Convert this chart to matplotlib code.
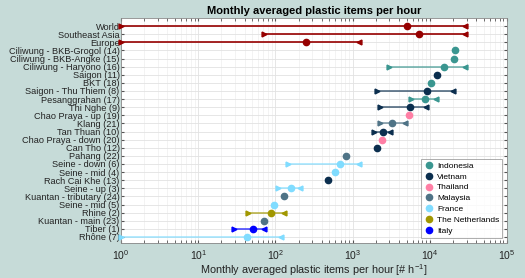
import numpy as np
import matplotlib
matplotlib.use('Agg')
import matplotlib.pyplot as plt
from matplotlib.lines import Line2D

plt.rcParams['font.family'] = ['Liberation Sans', 'DejaVu Sans']
plt.rcParams['mathtext.fontset'] = 'custom'
plt.rcParams['mathtext.rm'] = 'Liberation Sans'
plt.rcParams['mathtext.it'] = 'Liberation Sans'

labels = ['World', 'Southeast Asia', 'Europe',
          'Ciliwung - BKB-Grogol (14)', 'Ciliwung - BKB-Angke (15)', 'Ciliwung - Haryono (16)',
          'Saigon (11)', 'BKT (18)', 'Saigon - Thu Thiem (8)', 'Pesanggrahan (17)',
          'Thi Nghe (9)', 'Chao Praya - up (19)', 'Klang (21)', 'Tan Thuan (10)',
          'Chao Praya - down (20)', 'Can Tho (12)', 'Pahang (22)', 'Seine - down (6)',
          'Seine - mid (4)', 'Rach Cai Khe (13)', 'Seine - up (3)', 'Kuantan - tributary (24)',
          'Seine - mid (5)', 'Rhine (2)', 'Kuantan - main (23)', 'Tiber (1)', 'Rh\u00f4ne (7)']
groups = ['Region', 'Region', 'Region',
          'Indonesia', 'Indonesia', 'Indonesia',
          'Vietnam', 'Indonesia', 'Vietnam', 'Indonesia',
          'Vietnam', 'Thailand', 'Malaysia', 'Vietnam',
          'Thailand', 'Vietnam', 'Malaysia', 'France',
          'France', 'Vietnam', 'France', 'Malaysia',
          'France', 'The Netherlands', 'Malaysia', 'Italy', 'France']
values = [5000, 7200, 247,
          21500, 20500, 15400,
          12300, 10500, 9300, 8700,
          5600, 5300, 3250, 2450,
          2430, 2040, 810, 680,
          600, 485, 159, 131,
          95, 87, 71, 52, 43]
# lower / upper bounds (nan = no range)
lows = [1, 71, 1,
        np.nan, np.nan, 3000,
        np.nan, np.nan, 2100, 5650,
        2250, np.nan, 2250, 1870,
        np.nan, np.nan, np.nan, 147,
        np.nan, np.nan, 109, np.nan,
        np.nan, 44.7, np.nan, 29.4, 1]
highs = [29000, 29000, 1200,
         np.nan, np.nan, 29000,
         np.nan, np.nan, 19800, 12000,
         8900, np.nan, 4800, 3030,
         np.nan, np.nan, np.nan, 1220,
         np.nan, np.nan, 210, np.nan,
         np.nan, 129, np.nan, 71, 118]

colors = {'Region': '#960000', 'Indonesia': '#3a9690', 'Vietnam': '#0b2e4e',
          'Thailand': '#ff7fa5', 'Malaysia': '#4f7386', 'France': '#80dcff',
          'The Netherlands': '#a19700', 'Italy': '#0000ff'}
legend_order = ['Indonesia', 'Vietnam', 'Thailand', 'Malaysia', 'France',
                'The Netherlands', 'Italy']

fig = plt.figure(figsize=(5.25, 2.78), dpi=100, facecolor='#c6dbd8')
ax = fig.add_axes([0.2305, 0.126, 0.7352, 0.809])

for i, lab in enumerate(labels):
    c = colors[groups[i]]
    if not np.isnan(lows[i]):
        ax.plot([lows[i], highs[i]], [i, i], color=c, lw=1.2,
                alpha=0.7 if groups[i] != 'Region' else 1, zorder=2)
        ax.plot(lows[i], i, marker='>', color=c, ms=3.5, zorder=3, clip_on=False)
        ax.plot(highs[i], i, marker='<', color=c, ms=3.5, zorder=3, clip_on=False)
    ax.plot(values[i], i, 'o', color=c, ms=4.5, zorder=4)

ax.set_xscale('log')
ax.set_xlim(1, 1e5)
ax.set_ylim(26.74, -0.99)
ax.set_yticks(range(len(labels)))
ax.set_yticklabels(labels, fontsize=6.6)
ax.tick_params(axis='x', labelsize=7.5, pad=4)
ax.tick_params(which='both', direction='in', top=True, right=True, colors='#555555',
               labelcolor='#222222', length=2.5)
ax.tick_params(axis='y', pad=1)
ax.grid(True, which='major', color='#e2e2e2', lw=0.6)
ax.grid(True, which='minor', axis='x', color='#efefef', lw=0.5)
ax.set_axisbelow(True)
for s in ax.spines.values():
    s.set_color('#888888')
    s.set_linewidth(0.6)

ax.set_title('Monthly averaged plastic items per hour', fontsize=8, fontweight='bold', pad=3)
ax.set_xlabel('Monthly averaged plastic items per hour [# h$^{-1}$]', fontsize=7.8,
              labelpad=0, color='#222222')

handles = [Line2D([], [], marker='o', ls='none', color=colors[g], ms=4.5, label=g)
           for g in legend_order]
leg = ax.legend(handles=handles, loc='lower right', fontsize=6, frameon=True,
                fancybox=False, edgecolor='#888888', handletextpad=0.3,
                borderpad=0.35, labelspacing=0.36, handlelength=1.3,
                bbox_to_anchor=(0.998, 0.005))
leg.get_frame().set_linewidth(0.6)

fig.savefig('out.png', dpi=100, facecolor=fig.get_facecolor())
